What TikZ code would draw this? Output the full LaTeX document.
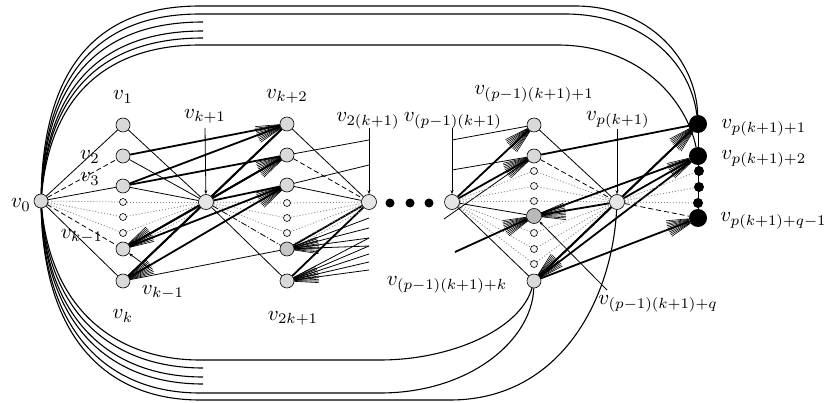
\documentclass[tikz,border=0pt]{standalone}
\usetikzlibrary{calc,arrows.meta,backgrounds}
\newcommand{\myfan}[2]{\foreach \aa in {-16,-13,...,16}{\draw[line width=0.6pt] (#1) -- ($(#1)!32pt!\aa:(#2)$);}}
\begin{document}
\begin{tikzpicture}[x=1pt,y=-1pt,
 vtx/.style={circle,draw,line width=0.6pt,fill=gray!30,minimum size=14pt,inner sep=0pt},
 hub/.style={circle,draw,line width=0.6pt,fill=gray!20,minimum size=15pt,inner sep=0pt},
 sdot/.style={circle,draw,line width=0.6pt,fill=gray!10,minimum size=7pt,inner sep=0pt},
 bvtx/.style={circle,fill=black,minimum size=18pt,inner sep=0pt},
 bsm/.style={circle,fill=black,minimum size=10pt,inner sep=0pt},
 bdot/.style={circle,fill=black,minimum size=9pt,inner sep=0pt},
 lbl/.style={inner sep=0pt,scale=2.1},
 e/.style={line width=0.8pt},
 thk/.style={line width=1.8pt},
 dsh/.style={line width=0.8pt,dash pattern=on 5pt off 3pt},
 spk/.style={line width=0.8pt,gray,dash pattern=on 1pt off 2pt},
 crv/.style={line width=1.1pt},
 ptr/.style={line width=0.8pt,-{Stealth[length=4pt,width=3pt]}},
]
\useasboundingbox (0,0) rectangle (827,403);
% ---------- nodes ----------
\node[vtx] (v0) at (41,201) {};
\node[vtx] (a1) at (123,125) {};
\node[vtx] (a2) at (123,156) {};
\node[vtx] (a3) at (123,186) {};
\node[sdot] (ad1) at (123,202) {};
\node[sdot] (ad2) at (123,217) {};
\node[sdot] (ad3) at (123,233) {};
\node[vtx] (a4) at (123,249) {};
\node[vtx] (a5) at (123,281) {};
\node[hub] (h1) at (206,202) {};
\node[vtx] (b1) at (287,124) {};
\node[vtx] (b2) at (287,155) {};
\node[vtx] (b3) at (287,185) {};
\node[sdot] (bd1) at (287,203) {};
\node[sdot] (bd2) at (287,218) {};
\node[sdot] (bd3) at (287,233) {};
\node[vtx,fill=gray!45] (b4) at (287,249) {};
\node[vtx] (b5) at (287,281) {};
\node[hub] (h2) at (369,202) {};
\node[bdot] (k1) at (390,203) {};
\node[bdot] (k2) at (410,203) {};
\node[bdot] (k3) at (429,203) {};
\node[hub] (h3) at (452,202) {};
\node[vtx] (c1) at (534,125) {};
\node[vtx] (c2) at (534,156) {};
\node[sdot] (cd1) at (534,171) {};
\node[sdot] (cd2) at (534,186) {};
\node[sdot] (cd3) at (534,201) {};
\node[vtx,fill=gray!55,minimum size=15pt] (cq) at (534,216) {};
\node[sdot] (cd4) at (534,233) {};
\node[sdot] (cd5) at (534,249) {};
\node[sdot] (cd6) at (534,264) {};
\node[vtx] (ck) at (534,281) {};
\node[hub] (h4) at (617,202) {};
\node[bvtx] (r1) at (698,124) {};
\node[bvtx] (r2) at (698,156) {};
\node[bsm] (rd1) at (699,171) {};
\node[bsm] (rd2) at (699,187) {};
\node[bsm] (rd3) at (698,203) {};
\node[bvtx] (rq) at (698,218) {};
% ---------- labels ----------
\node[lbl] (L0) at (21,205) {$v_0$};
\node[lbl] (L1) at (123,97) {$v_1$};
\node[lbl] (L2) at (90,157) {$v_2$};
\node[lbl] (L3) at (90,179) {$v_3$};
\node[lbl] (Lka) at (82,236) {$v_{k-1}$};
\node[lbl] (Lkb) at (163,292) {$v_{k-1}$};
\node[lbl] (Lk) at (123,316) {$v_k$};
\node[lbl] (Lh1) at (205,116) {$v_{k+1}$};
\node[lbl] (Lb1) at (287,96) {$v_{k+2}$};
\node[lbl] (Lb5) at (293,318) {$v_{2k+1}$};
\node[lbl] (Lh2) at (368,121) {$v_{2(k+1)}$};
\node[lbl] (Lh3) at (453,121) {$v_{(p-1)(k+1)}$};
\node[lbl] (Lc1) at (534,94) {$v_{(p-1)(k+1)+1}$};
\node[lbl] (Lh4) at (618,120) {$v_{p(k+1)}$};
\node[lbl,anchor=west] (Lr1) at (721,128) {$v_{p(k+1)+1}$};
\node[lbl,anchor=west] (Lr2) at (721,159) {$v_{p(k+1)+2}$};
\node[lbl,anchor=west] (Lrq) at (720,221) {$v_{p(k+1)+q-1}$};
\node[lbl] (Lck) at (447,285) {$v_{(p-1)(k+1)+k}$};
\node[lbl,anchor=west] (Lcq) at (598,304) {$v_{(p-1)(k+1)+q}$};
% ---------- free ends ----------
\coordinate (p1) at (205,128);
\coordinate (p2) at (369,128);
\coordinate (p3) at (452,128);
\coordinate (p4) at (617,129);
\coordinate (q1) at (369,140);
\coordinate (q2) at (369,165);
\coordinate (s1) at (452,140);
\coordinate (s2) at (452,170);
\coordinate (s3) at (455,252);
\coordinate (s4) at (444,219);
\coordinate (z1) at (369,218);
\coordinate (z2) at (369,228);
\coordinate (z3) at (369,238);
\coordinate (z4) at (369,246);
\coordinate (z5) at (369,254);
\coordinate (z6) at (369,262);
\coordinate (z7) at (369,270);
\coordinate (ka) at (149,268);
\coordinate (qa) at (607,290);
\begin{scope}[on background layer]
\fill[white] (0,0) rectangle (827,403);
% ---------- outer curves ----------
\draw[crv] (v0) .. controls (44,53) and (110,6) .. (200,6) -- (575,6) .. controls (650,6) and (696,60) .. (r1);
\draw[crv] (v0) .. controls (46,59) and (112,14) .. (200,14) -- (565,14) .. controls (640,14) and (690,60) .. (r1);
\draw[crv] (v0) .. controls (47,65) and (114,22) .. (203,22);
\draw[crv] (v0) .. controls (49,72) and (116,31) .. (203,31);
\draw[crv] (v0) .. controls (50,77) and (118,38) .. (203,38);
\draw[crv] (v0) .. controls (52,83) and (120,45) .. (200,45) -- (557,45) .. controls (640,45) and (686,100) .. (r2);
\draw[crv] (v0) .. controls (44,342) and (110,400) .. (200,400) -- (450,400) .. controls (560,400) and (612,300) .. (h4);
\draw[crv] (v0) .. controls (45,337) and (112,393) .. (200,393) -- (380,393) .. controls (470,393) and (532,340) .. (ck);
\draw[crv] (v0) .. controls (47,331) and (114,384) .. (203,384);
\draw[crv] (v0) .. controls (48,326) and (116,377) .. (203,377);
\draw[crv] (v0) .. controls (50,320) and (118,368) .. (203,368);
\draw[crv] (v0) .. controls (52,314) and (120,360) .. (200,360) -- (380,360) .. controls (450,360) and (520,330) .. (ck);
% ---------- v0 ----------
\draw[e] (v0) -- (a1);
\draw[dsh] (v0) -- (a2);
\draw[e] (v0) -- (a3);
\foreach \n in {ad1,ad2,ad3} \draw[spk] (v0) -- (\n);
\draw[dsh] (v0) -- (a4);
\draw[e] (v0) -- (a5);
% ---------- column 1 to h1 ----------
\draw[e] (a1) -- (h1);
\draw[e] (a2) -- (h1);
\draw[e] (a3) -- (h1);
\foreach \n in {ad1,ad2,ad3} \draw[spk] (\n) -- (h1);
\draw[thk] (a4) -- (h1);
\draw[thk] (a5) -- (h1);
\draw[spk] ($(a4)+(8,-6)$) -- ($(h1)+(-6,4)$);
\draw[spk] ($(a4)+(8,-2)$) -- ($(h1)+(-6,8)$);
% ---------- h1 to column 2 ----------
\draw[thk] (h1) -- (b1);
\draw[thk] (h1) -- (b2);
\draw[thk] (h1) -- (b3);
\foreach \n in {bd1,bd2,bd3} \draw[spk] (h1) -- (\n);
\draw[e,dash pattern=on 6pt off 2pt on 1pt off 2pt] (h1) -- (b4);
\draw[e] (h1) -- (b5);
% ---------- column 2 to h2 ----------
\draw[e] (b1) -- (h2);
\draw[dsh] (b2) -- (h2);
\draw[e] (b3) -- (h2);
\foreach \n in {bd1,bd2,bd3} \draw[spk] (\n) -- (h2);
\draw[thk] (b4) -- (h2);
\draw[thk] (b5) -- (h2);
\draw[spk] ($(b4)+(8,-6)$) -- ($(h2)+(-6,4)$);
\draw[spk] ($(b4)+(8,-2)$) -- ($(h2)+(-6,8)$);
% ---------- cross edges column 1 -> column 2 ----------
\draw[thk] (a2) -- (b1);
\draw[thk] (a3) -- (b1);
\draw[thk] (a5) -- (b1);
\draw[thk] (a3) -- (b2);
\draw[thk] (a4) -- (b2);
\draw[thk] (a4) -- (b3);
\draw[thk] (a5) -- (b3);
\draw[e] (a5) -- (b4);
\myfan{b1}{a3}
\myfan{b2}{a4}
\myfan{b3}{a5}
\myfan{a4}{b2}
\myfan{a5}{b3}
% ---------- column 2 onwards ----------
\draw[e] (b2) -- (q1);
\draw[e] (b3) -- (q2);
\foreach \z in {z1,z2,z3,z4} \draw[e] (b4) -- (\z);
\foreach \z in {z3,z4,z5,z6,z7} \draw[e] (b5) -- (\z);
\myfan{b4}{z3}
\myfan{b5}{z6}
% ---------- h3 ----------
\draw[e] (s1) -- (c1);
\draw[e] (s2) -- (c2);
\draw[thk] (h3) -- (c1);
\draw[thk] (h3) -- (c2);
\draw[e] (s4) -- (c2);
\foreach \n in {cd1,cd2,cd3,cd4,cd5,cd6} \draw[spk] (h3) -- (\n);
\draw[e] (h3) -- (cq);
\draw[e] (h3) -- (ck);
\draw[thk] (s3) -- (cq);
\myfan{c1}{h3}
\myfan{c2}{h3}
\myfan{cq}{s3}
% ---------- column 3 to h4 ----------
\draw[e] (c1) -- (h4);
\draw[dsh] (c2) -- (h4);
\foreach \n in {cd1,cd2,cd3,cd4,cd5,cd6} \draw[spk] (\n) -- (h4);
\draw[thk] (cq) -- (h4);
\draw[thk] (ck) -- (h4);
\myfan{cq}{h4}
\myfan{ck}{h4}
% ---------- to right column ----------
\draw[thk] (c2) -- (r1);
\draw[thk] (cq) -- (r2);
\draw[thk] (ck) -- (r1);
\draw[thk] (ck) -- (r2);
\draw[thk] (ck) -- (rq);
\draw[thk] (h4) -- (r1);
\draw[thk] (h4) -- (r2);
\draw[dsh] (h4) -- (rq);
\foreach \n in {rd1,rd2,rd3} \draw[spk] (h4) -- (\n);
\myfan{r1}{h4}
\myfan{r2}{h4}
\myfan{rq}{ck}
\draw[e] (r1) -- (rq);
% ---------- pointers ----------
\draw[ptr] (p1) -- (h1);
\draw[ptr] (p2) -- (h2);
\draw[ptr] (p3) -- (h3);
\draw[ptr] (p4) -- (h4);
\draw[ptr] (ka) -- (a4);
\draw[ptr] (qa) -- (cq);
\end{scope}
\end{tikzpicture}
\end{document}
